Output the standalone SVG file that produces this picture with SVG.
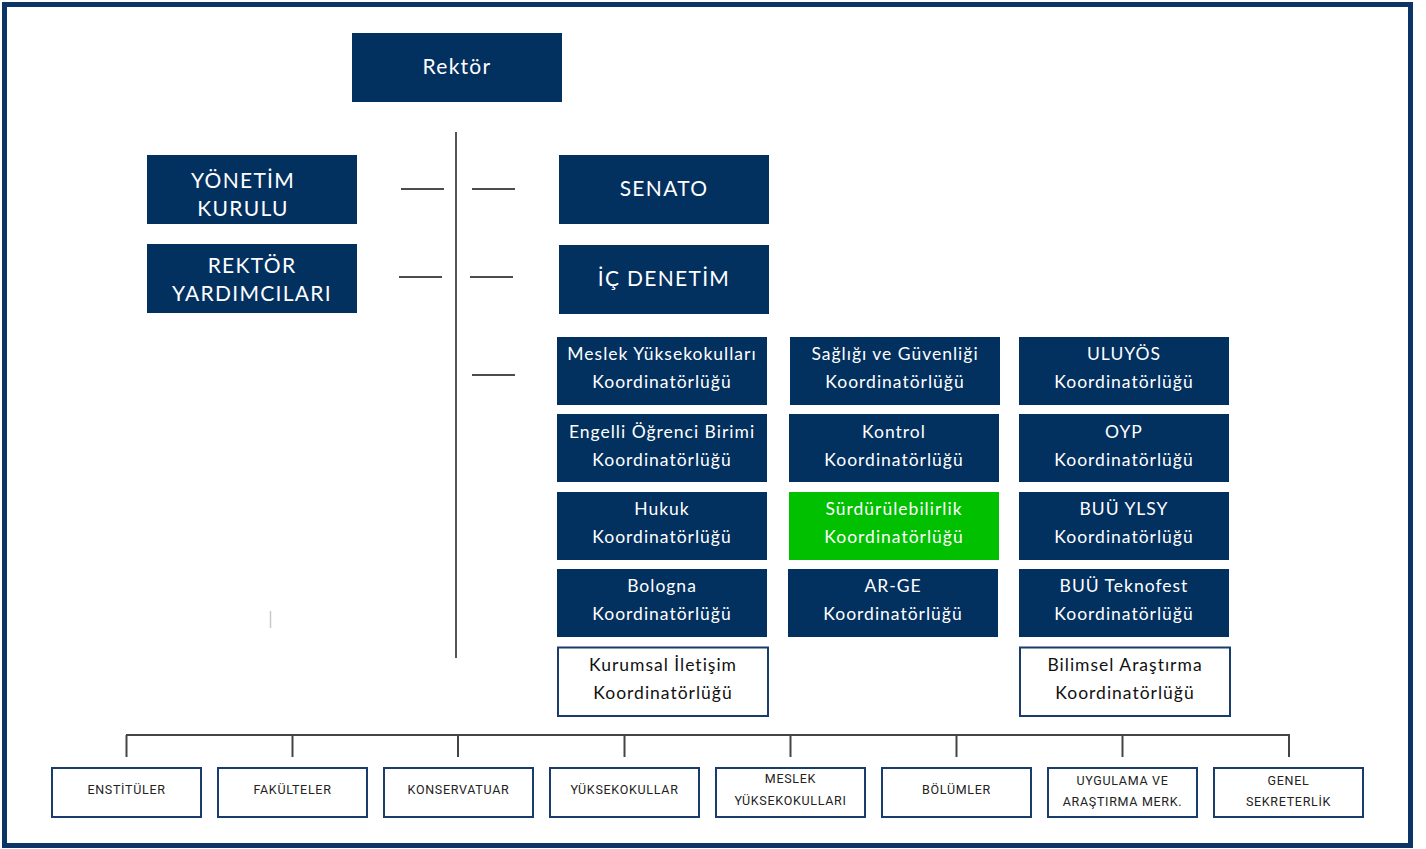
<svg xmlns="http://www.w3.org/2000/svg" width="1426" height="849" viewBox="0 0 1426 849">
<style>
.nb{fill:#02305f}
.gb{fill:#00c000}
.wb{fill:#ffffff;stroke:#1a3c6c;stroke-width:2}
.bb{fill:#ffffff;stroke:#1a3c6c;stroke-width:2}
.t{font-family:Lato,"Open Sans",sans-serif;text-anchor:middle;fill:#ffffff}
.tl{font-size:21px;letter-spacing:1.3px}
.tm{font-size:17.5px;letter-spacing:1px}
.tk{font-family:Lato,"Open Sans",sans-serif;text-anchor:middle;fill:#111111;font-size:17.5px;letter-spacing:1px}
.ts{font-family:Roboto,"Liberation Sans",sans-serif;text-anchor:middle;fill:#222222;font-size:12.5px;letter-spacing:0.7px}
.c{stroke:#111111;stroke-width:1.5;fill:none}
.cv{stroke:#555555;stroke-width:2;fill:none}
.cb{stroke:#444444;stroke-width:2;fill:none}
</style>
<rect x="0" y="0" width="1426" height="849" fill="#ffffff"/>
<rect id="frame" x="4.5" y="4.5" width="1406" height="841" fill="none" stroke="#0d3466" stroke-width="5"/>

<g id="connectors">
<line class="cv" x1="456" y1="132" x2="456" y2="658"/>
<line class="c" x1="401" y1="189" x2="444" y2="189"/>
<line class="c" x1="472" y1="189" x2="515" y2="189"/>
<line class="c" x1="399" y1="277" x2="442" y2="277"/>
<line class="c" x1="470" y1="277" x2="513" y2="277"/>
<line class="c" x1="472" y1="375" x2="515" y2="375"/>
<line class="cb" x1="126" y1="735" x2="1290" y2="735"/>
<line class="cb" x1="126.5" y1="735" x2="126.5" y2="757"/>
<line class="cb" x1="292.5" y1="735" x2="292.5" y2="757"/>
<line class="cb" x1="458" y1="735" x2="458" y2="757"/>
<line class="cb" x1="624.5" y1="735" x2="624.5" y2="757"/>
<line class="cb" x1="790.5" y1="735" x2="790.5" y2="757"/>
<line class="cb" x1="956.5" y1="735" x2="956.5" y2="757"/>
<line class="cb" x1="1122.5" y1="735" x2="1122.5" y2="757"/>
<line class="cb" x1="1289" y1="735" x2="1289" y2="757"/>
<line x1="270.5" y1="611" x2="270.5" y2="628" stroke="#c8c8c8" stroke-width="1.5"/>
</g>

<g id="rektor"><rect class="nb" x="352" y="33" width="210" height="69"/><text class="t tl" x="457" y="74">Rektör</text></g>
<g id="yonetim-kurulu"><rect class="nb" x="147" y="155" width="210" height="69"/><text class="t tl" x="243" y="188">YÖNETİM</text><text class="t tl" x="243" y="216">KURULU</text></g>
<g id="rektor-yardimcilari"><rect class="nb" x="147" y="244" width="210" height="69"/><text class="t tl" x="252" y="273">REKTÖR</text><text class="t tl" x="252" y="301">YARDIMCILARI</text></g>
<g id="senato"><rect class="nb" x="559" y="155" width="210" height="69"/><text class="t tl" x="664" y="196">SENATO</text></g>
<g id="ic-denetim"><rect class="nb" x="559" y="245" width="210" height="69"/><text class="t tl" x="664" y="286">İÇ DENETİM</text></g>

<g id="meslek-yo-koord"><rect class="nb" x="557" y="337" width="210" height="68"/><text class="t tm" x="662" y="360">Meslek Yüksekokulları</text><text class="t tm" x="662" y="388">Koordinatörlüğü</text></g>
<g id="saglik-guvenlik-koord"><rect class="nb" x="790" y="337" width="210" height="68"/><text class="t tm" x="895" y="360">Sağlığı ve Güvenliği</text><text class="t tm" x="895" y="388">Koordinatörlüğü</text></g>
<g id="uluyos-koord"><rect class="nb" x="1019" y="337" width="210" height="68"/><text class="t tm" x="1124" y="360">ULUYÖS</text><text class="t tm" x="1124" y="388">Koordinatörlüğü</text></g>

<g id="engelli-koord"><rect class="nb" x="557" y="414" width="210" height="68"/><text class="t tm" x="662" y="438">Engelli Öğrenci Birimi</text><text class="t tm" x="662" y="466">Koordinatörlüğü</text></g>
<g id="kontrol-koord"><rect class="nb" x="789" y="414" width="210" height="68"/><text class="t tm" x="894" y="438">Kontrol</text><text class="t tm" x="894" y="466">Koordinatörlüğü</text></g>
<g id="oyp-koord"><rect class="nb" x="1019" y="414" width="210" height="68"/><text class="t tm" x="1124" y="438">OYP</text><text class="t tm" x="1124" y="466">Koordinatörlüğü</text></g>

<g id="hukuk-koord"><rect class="nb" x="557" y="492" width="210" height="68"/><text class="t tm" x="662" y="515">Hukuk</text><text class="t tm" x="662" y="543">Koordinatörlüğü</text></g>
<g id="surdurulebilirlik-koord"><rect class="gb" x="789" y="492" width="210" height="68"/><text class="t tm" x="894" y="515">Sürdürülebilirlik</text><text class="t tm" x="894" y="543">Koordinatörlüğü</text></g>
<g id="buu-ylsy-koord"><rect class="nb" x="1019" y="492" width="210" height="68"/><text class="t tm" x="1124" y="515">BUÜ YLSY</text><text class="t tm" x="1124" y="543">Koordinatörlüğü</text></g>

<g id="bologna-koord"><rect class="nb" x="557" y="569" width="210" height="68"/><text class="t tm" x="662" y="592">Bologna</text><text class="t tm" x="662" y="620">Koordinatörlüğü</text></g>
<g id="arge-koord"><rect class="nb" x="788" y="569" width="210" height="68"/><text class="t tm" x="893" y="592">AR-GE</text><text class="t tm" x="893" y="620">Koordinatörlüğü</text></g>
<g id="buu-teknofest-koord"><rect class="nb" x="1019" y="569" width="210" height="68"/><text class="t tm" x="1124" y="592">BUÜ Teknofest</text><text class="t tm" x="1124" y="620">Koordinatörlüğü</text></g>

<g id="kurumsal-iletisim-koord"><rect class="wb" x="558" y="647.5" width="210" height="68.5"/><text class="tk" x="663" y="671">Kurumsal İletişim</text><text class="tk" x="663" y="699">Koordinatörlüğü</text></g>
<g id="bilimsel-arastirma-koord"><rect class="wb" x="1020" y="647.5" width="210" height="68.5"/><text class="tk" x="1125" y="671">Bilimsel Araştırma</text><text class="tk" x="1125" y="699">Koordinatörlüğü</text></g>

<g id="enstituler"><rect class="bb" x="52" y="768" width="149" height="49"/><text class="ts" x="126.5" y="794">ENSTİTÜLER</text></g>
<g id="fakulteler"><rect class="bb" x="218" y="768" width="149" height="49"/><text class="ts" x="292.5" y="794">FAKÜLTELER</text></g>
<g id="konservatuar"><rect class="bb" x="384" y="768" width="149" height="49"/><text class="ts" x="458.5" y="794">KONSERVATUAR</text></g>
<g id="yuksekokullar"><rect class="bb" x="550" y="768" width="149" height="49"/><text class="ts" x="624.5" y="794">YÜKSEKOKULLAR</text></g>
<g id="meslek-yuksekokullari"><rect class="bb" x="716" y="768" width="149" height="49"/><text class="ts" x="790.5" y="783">MESLEK</text><text class="ts" x="790.5" y="805">YÜKSEKOKULLARI</text></g>
<g id="bolumler"><rect class="bb" x="882" y="768" width="149" height="49"/><text class="ts" x="956.5" y="794">BÖLÜMLER</text></g>
<g id="uygulama-arastirma"><rect class="bb" x="1048" y="768" width="149" height="49"/><text class="ts" x="1122.5" y="785">UYGULAMA VE</text><text class="ts" x="1122.5" y="806">ARAŞTIRMA MERK.</text></g>
<g id="genel-sekreterlik"><rect class="bb" x="1214" y="768" width="149" height="49"/><text class="ts" x="1288.5" y="785">GENEL</text><text class="ts" x="1288.5" y="806">SEKRETERLİK</text></g>
</svg>
